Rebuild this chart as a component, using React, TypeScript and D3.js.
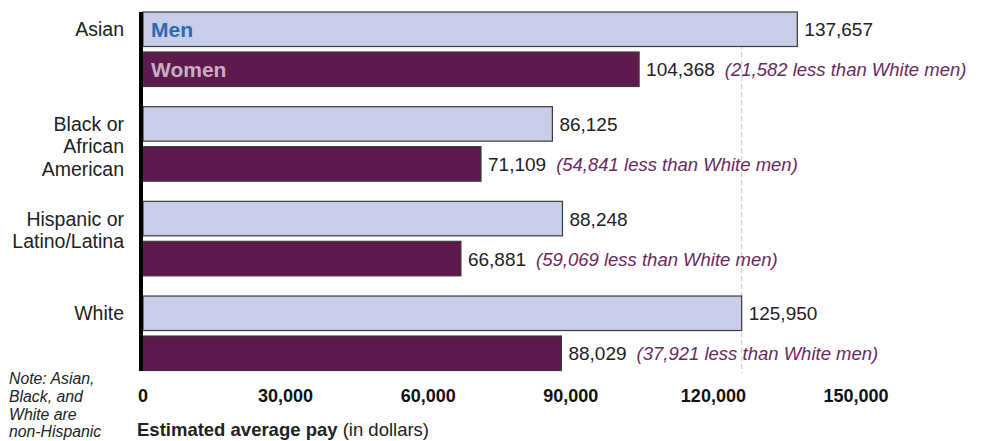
import React from "react";
import * as d3 from "d3";

const categories = ["Asian", "Black or African American", "Hispanic or Latino/Latina", "White"];
const categoryLines = [["Asian"], ["Black or", "African", "American"], ["Hispanic or", "Latino/Latina"], ["White"]];
const menPay = [137657, 86125, 88248, 125950];
const womenPay = [104368, 71109, 66881, 88029];
const gapToWhiteMen = [21582, 54841, 59069, 37921];
const xTicks = [0, 30000, 60000, 90000, 120000, 150000];
const noteLines = ["Note: Asian,", "Black, and", "White are", "non-Hispanic"];

const W = 983;
const H = 441;
const FONT = "'Liberation Sans', Arial, sans-serif";
const MEN_FILL = "#c8cde8";
const WOMEN_FILL = "#5e1a4d";
const ANNO = "#6a2a5e";

export default function App() {
  const x = d3.scaleLinear().domain([0, 150000]).range([143, 856]);
  const y = d3.scaleBand<string>().domain(categories).range([12, 390.7]).paddingInner(0).paddingOuter(0);
  const barH = 34.5;
  const gap = 5.5;
  const fmt = d3.format(",");
  const refX = x(menPay[3]);

  return (
    <svg width={W} height={H} style={{ position: "absolute", left: 0, top: 0, fontFamily: FONT }}>
      <rect width={W} height={H} fill="#fff" />
      <line x1={refX} x2={refX} y1={12} y2={373} stroke="#c8c8c8" strokeWidth={1} strokeDasharray="5,3" />
      {categories.map((c, i) => {
        const y0 = y(c)!;
        const yM = y0;
        const yW = y0 + barH + gap;
        const lines = categoryLines[i];
        const lh = 22.5;
        return (
          <g key={c}>
            <rect x={x(0)} y={yM} width={x(menPay[i]) - x(0)} height={barH} fill={MEN_FILL} stroke="#3a3a3a" strokeWidth={1.2} />
            <rect x={x(0)} y={yW} width={x(womenPay[i]) - x(0)} height={barH} fill={WOMEN_FILL} stroke="#3a3a3a" strokeWidth={1.2} />
            <text x={x(menPay[i]) + 7} y={yM + barH / 2 + 7} fontSize={19} fill="#222">{fmt(menPay[i])}</text>
            <text x={x(womenPay[i]) + 7} y={yW + barH / 2 + 7} fontSize={19} fill="#222">
              {fmt(womenPay[i])}
              <tspan dx={10} fill={ANNO} fontStyle="italic" fontSize={18.5}>({fmt(gapToWhiteMen[i])} less than White men)</tspan>
            </text>
            {lines.map((l, k) => (
              <text key={k} x={124} y={yM + barH / 2 + 7 + k * lh} fontSize={19.5} fill="#222" textAnchor="end">{l}</text>
            ))}
            {i === 0 && (
              <>
                <text x={151} y={yM + barH / 2 + 8} fontSize={21} fontWeight="bold" fill="#2d6ab3">Men</text>
                <text x={151} y={yW + barH / 2 + 8} fontSize={21} fontWeight="bold" fill="#c6afc4">Women</text>
              </>
            )}
          </g>
        );
      })}
      <line x1={x(0) - 2} x2={x(0) - 2} y1={12} y2={371} stroke="#000" strokeWidth={4} />
      {xTicks.map((t) => (
        <text key={t} x={x(t)} y={402} fontSize={18} fontWeight="bold" textAnchor="middle" fill="#111">{fmt(t)}</text>
      ))}
      <text x={137} y={436} fontSize={18.5} fill="#222">
        <tspan fontWeight="bold">Estimated average pay</tspan>
        <tspan> (in dollars)</tspan>
      </text>
      {noteLines.map((l, k) => (
        <text key={k} x={9} y={384 + k * 17.8} fontSize={15.8} fontStyle="italic" fill="#222">{l}</text>
      ))}
    </svg>
  );
}
